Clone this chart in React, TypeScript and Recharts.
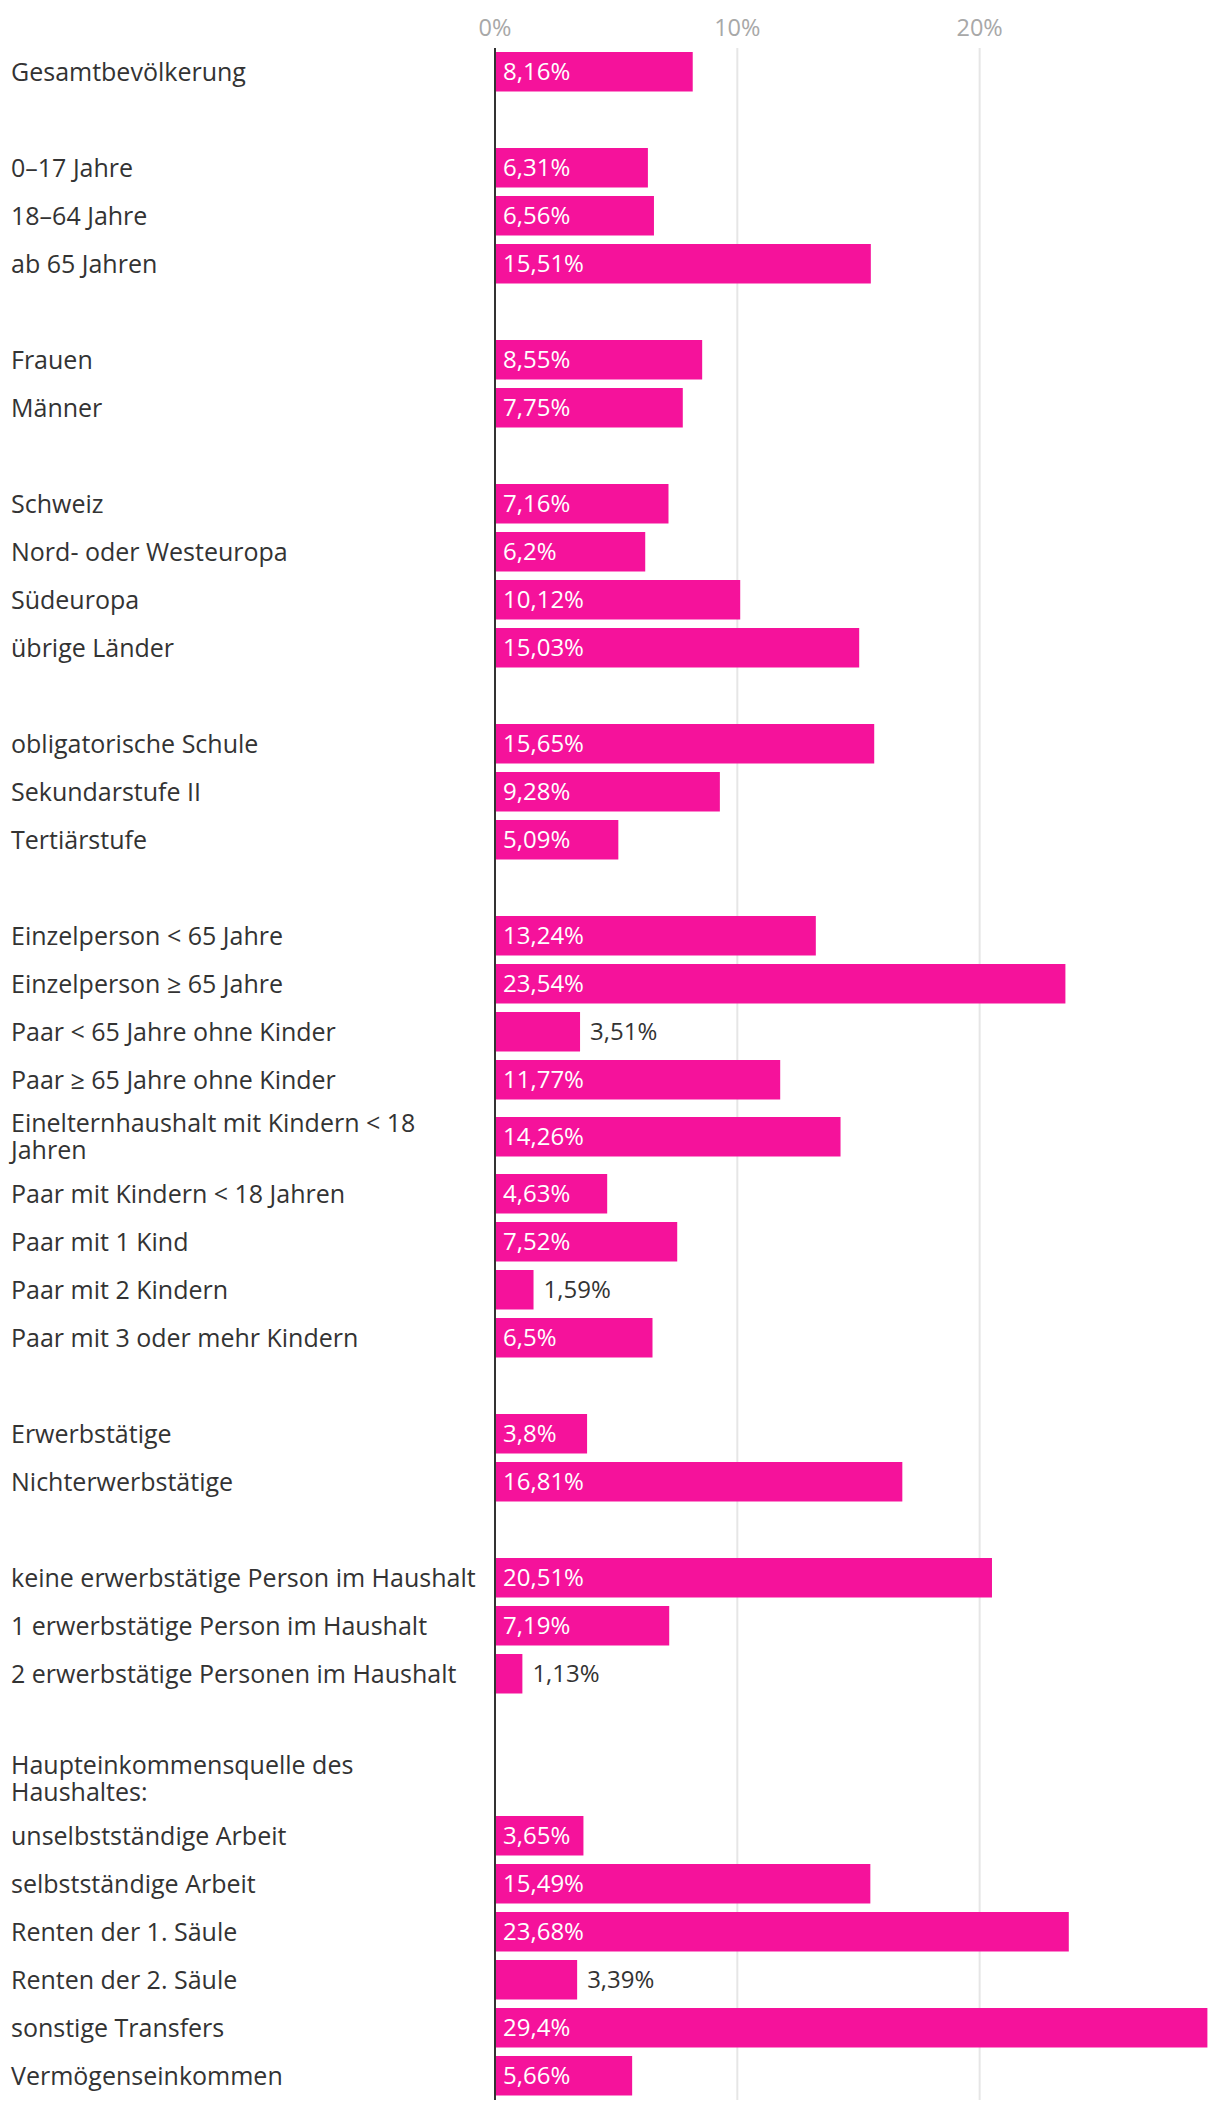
import { BarChart, Bar, XAxis, YAxis, CartesianGrid, LabelList } from 'recharts';

// Anteil armutsbetroffener Personen nach Gruppe (in %)
const groupLabels: string[][] = [
  ['Gesamtbevölkerung'],
  ['0–17 Jahre', '18–64 Jahre', 'ab 65 Jahren'],
  ['Frauen', 'Männer'],
  ['Schweiz', 'Nord- oder Westeuropa', 'Südeuropa', 'übrige Länder'],
  ['obligatorische Schule', 'Sekundarstufe II', 'Tertiärstufe'],
  [
    'Einzelperson < 65 Jahre',
    'Einzelperson ≥ 65 Jahre',
    'Paar < 65 Jahre ohne Kinder',
    'Paar ≥ 65 Jahre ohne Kinder',
    'Einelternhaushalt mit Kindern < 18 Jahren',
    'Paar mit Kindern < 18 Jahren',
    'Paar mit 1 Kind',
    'Paar mit 2 Kindern',
    'Paar mit 3 oder mehr Kindern',
  ],
  ['Erwerbstätige', 'Nichterwerbstätige'],
  [
    'keine erwerbstätige Person im Haushalt',
    '1 erwerbstätige Person im Haushalt',
    '2 erwerbstätige Personen im Haushalt',
  ],
  [
    'Haupteinkommensquelle des Haushaltes:',
    'unselbstständige Arbeit',
    'selbstständige Arbeit',
    'Renten der 1. Säule',
    'Renten der 2. Säule',
    'sonstige Transfers',
    'Vermögenseinkommen',
  ],
];

const groupValues: (number | null)[][] = [
  [8.16],
  [6.31, 6.56, 15.51],
  [8.55, 7.75],
  [7.16, 6.2, 10.12, 15.03],
  [15.65, 9.28, 5.09],
  [13.24, 23.54, 3.51, 11.77, 14.26, 4.63, 7.52, 1.59, 6.5],
  [3.8, 16.81],
  [20.51, 7.19, 1.13],
  [null, 3.65, 15.49, 23.68, 3.39, 29.4, 5.66],
];

const xTicks = [0, 10, 20];

const FONT = '"Open Sans", sans-serif';
const PINK = '#f5129b';
const TEXT = '#333333';
const WIDTH = 1220;
const AXIS_H = 48;
const ROW_H = 48;
const EXTRA_LINE_H = 18;
const LABEL_X = 11;
const LABEL_W = 470;
const LABEL_SIZE = 25;
const VALUE_SIZE = 24;
const PLOT_LEFT = 495;
const RIGHT_MARGIN = 12.6;

let ctx: CanvasRenderingContext2D | null = null;
function measure(s: string, size: number) {
  if (!ctx) {
    ctx = document.createElement('canvas').getContext('2d');
  }
  ctx!.font = `${size}px ${FONT}`;
  return ctx!.measureText(s).width;
}

function wrap(label: string) {
  if (!label) return [];
  const words = label.split(' ');
  const lines: string[] = [];
  let cur = '';
  for (const w of words) {
    const next = cur ? `${cur} ${w}` : w;
    if (cur && measure(next, LABEL_SIZE) > LABEL_W) {
      lines.push(cur);
      cur = w;
    } else {
      cur = next;
    }
  }
  if (cur) lines.push(cur);
  return lines;
}

const fmt = (v: number) => `${String(v).replace('.', ',')}%`;

type Row = { key: string; label: string; value: number | null; lines: string[] };

const rows: Row[] = [];
groupLabels.forEach((labels, g) => {
  if (g > 0) rows.push({ key: `gap${g}`, label: '', value: null, lines: [] });
  labels.forEach((label, i) => {
    rows.push({ key: `r${g}-${i}`, label, value: groupValues[g][i], lines: wrap(label) });
  });
});

const maxValue = Math.max(...groupValues.flat().filter((v): v is number => v != null));

// rows with wrapped labels get their own (taller) band
const segments: Row[][] = [];
let run: Row[] = [];
rows.forEach((r) => {
  if (r.lines.length > 1) {
    if (run.length) segments.push(run);
    segments.push([r]);
    run = [];
  } else {
    run.push(r);
  }
});
if (run.length) segments.push(run);

const rowHeight = (r: Row) => ROW_H + Math.max(0, r.lines.length - 1) * EXTRA_LINE_H;

function CategoryTick(props: any) {
  const { y, payload } = props;
  const row = rows.find((r) => r.key === payload.value);
  if (!row || !row.lines.length) return null;
  const n = row.lines.length;
  return (
    <text x={LABEL_X} y={y} fill={TEXT} fontSize={LABEL_SIZE} fontFamily={FONT} textAnchor="start">
      {row.lines.map((line, i) => (
        <tspan key={i} x={LABEL_X} y={y + 8.8 + (i - (n - 1) / 2) * 27}>
          {line}
        </tspan>
      ))}
    </text>
  );
}

function TopTick(props: any) {
  const { x, payload } = props;
  return (
    <text x={x} y={36} fill="#a8a8a8" fontSize={23.5} fontFamily={FONT} textAnchor="middle">
      {`${payload.value}%`}
    </text>
  );
}

function ValueLabel(props: any) {
  const { x, y, width, height, value } = props;
  if (value == null) return null;
  const s = fmt(value);
  const inside = measure(s, VALUE_SIZE) + 20 <= width;
  return (
    <text
      x={inside ? x + 8 : x + width + 10}
      y={y + height / 2 + 8.5}
      fill={inside ? '#ffffff' : TEXT}
      fontSize={VALUE_SIZE}
      fontFamily={FONT}
    >
      {s}
    </text>
  );
}

const gridX = ({ xAxis, offset }: any) =>
  xTicks.map((t) =>
    xAxis && typeof xAxis.scale === 'function'
      ? xAxis.scale(t)
      : offset.left + (t / maxValue) * offset.width,
  );

export default function App() {
  return (
    <div style={{ position: 'absolute', left: 0, top: 0, width: WIDTH, background: '#fff', fontFamily: FONT }}>
      {segments.map((seg, si) => {
        const first = si === 0;
        const h = (first ? AXIS_H : 0) + seg.reduce((s, r) => s + rowHeight(r), 0);
        return (
          <div key={si} style={{ display: 'block', lineHeight: 0 }}>
            <BarChart
              layout="vertical"
              width={WIDTH}
              height={h}
              data={seg}
              margin={{ top: 0, right: RIGHT_MARGIN, bottom: 0, left: 0 }}
              barCategoryGap={0}
            >
              <CartesianGrid
                horizontal={false}
                stroke="#e6e6e6"
                strokeWidth={2}
                verticalCoordinatesGenerator={gridX}
              />
              <XAxis
                type="number"
                domain={[0, maxValue]}
                ticks={xTicks}
                orientation="top"
                height={first ? AXIS_H : 0}
                hide={!first}
                axisLine={false}
                tickLine={false}
                tick={<TopTick />}
              />
              <YAxis
                type="category"
                dataKey="key"
                width={PLOT_LEFT}
                interval={0}
                tickLine={false}
                axisLine={{ stroke: TEXT, strokeWidth: 2 }}
                tick={<CategoryTick />}
              />
              <Bar dataKey="value" fill={PINK} barSize={39.5} isAnimationActive={false}>
                <LabelList dataKey="value" content={<ValueLabel />} />
              </Bar>
            </BarChart>
          </div>
        );
      })}
    </div>
  );
}
